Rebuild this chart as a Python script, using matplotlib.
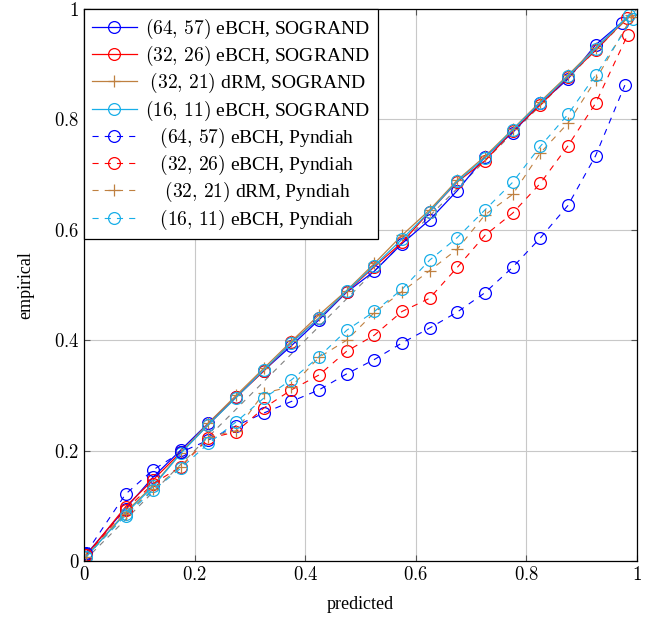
import matplotlib
matplotlib.use("Agg")
import matplotlib.pyplot as plt
from matplotlib.ticker import FuncFormatter, MultipleLocator

plt.rcParams['font.family'] = 'serif'
plt.rcParams['font.serif'] = ['Liberation Serif', 'DejaVu Serif']
plt.rcParams['mathtext.fontset'] = 'cm'

# bin centres (mean predicted probability per bin)
pred_mid = [0.075, 0.125, 0.175, 0.225, 0.275, 0.325, 0.375, 0.425, 0.475,
            0.525, 0.575, 0.625, 0.675, 0.725, 0.775, 0.825, 0.875, 0.925]

# SOGRAND
sog_64_57_x = [0.004] + pred_mid + [0.972]
sog_64_57 = [0.012, 0.095, 0.152, 0.201, 0.250, 0.297, 0.345, 0.390, 0.437, 0.487,
             0.525, 0.575, 0.618, 0.671, 0.732, 0.776, 0.829, 0.873, 0.935, 0.975]
sog_32_26_x = [0.004] + pred_mid + [0.981]
sog_32_26 = [0.010, 0.098, 0.147, 0.197, 0.247, 0.297, 0.344, 0.396, 0.440, 0.488,
             0.533, 0.577, 0.633, 0.687, 0.725, 0.779, 0.826, 0.877, 0.925, 0.983]
sog_32_21_x = [0.004] + pred_mid + [0.990]
sog_32_21 = [0.008, 0.088, 0.137, 0.196, 0.250, 0.300, 0.349, 0.398, 0.446, 0.490,
             0.539, 0.590, 0.636, 0.690, 0.733, 0.782, 0.832, 0.880, 0.930, 0.990]
sog_16_11_x = [0.004] + pred_mid + [0.986]
sog_16_11 = [0.008, 0.086, 0.135, 0.195, 0.247, 0.296, 0.346, 0.395, 0.440, 0.489,
             0.535, 0.583, 0.633, 0.688, 0.730, 0.781, 0.830, 0.878, 0.928, 0.990]

# Pyndiah
pyn_64_57_x = [0.004] + pred_mid + [0.978]
pyn_64_57 = [0.015, 0.121, 0.165, 0.197, 0.219, 0.245, 0.268, 0.289, 0.310, 0.339,
             0.365, 0.395, 0.422, 0.451, 0.486, 0.532, 0.585, 0.644, 0.734, 0.862]
pyn_32_26_x = [0.004] + pred_mid + [0.983]
pyn_32_26 = [0.010, 0.093, 0.140, 0.171, 0.222, 0.234, 0.277, 0.310, 0.337, 0.380,
             0.409, 0.452, 0.476, 0.532, 0.590, 0.630, 0.684, 0.752, 0.829, 0.953]
pyn_32_21_x = [0.004] + pred_mid + [0.990]
pyn_32_21 = [0.008, 0.085, 0.130, 0.171, 0.225, 0.236, 0.304, 0.316, 0.369, 0.400,
             0.450, 0.488, 0.526, 0.565, 0.627, 0.664, 0.739, 0.793, 0.871, 0.985]
pyn_16_11_x = [0.004] + pred_mid + [0.992]
pyn_16_11 = [0.008, 0.082, 0.128, 0.168, 0.213, 0.252, 0.295, 0.328, 0.370, 0.418,
             0.452, 0.492, 0.545, 0.586, 0.636, 0.686, 0.751, 0.809, 0.880, 0.982]

BLUE = '#0000FF'
RED = '#FF0000'
BROWN = '#BF8040'
CYAN = '#17AEE8'

fig = plt.figure(figsize=(6.57, 6.2), dpi=100)
ax = fig.add_axes([0.1279, 0.0952, 0.8417, 0.8903])

# perfect calibration reference
ax.plot([0, 1], [0, 1], color='gray', lw=0.8, ls=(0, (5, 5)), zorder=1)

solid = dict(lw=0.9, ms=8.5, mfc='none', mew=0.9)
dashed = dict(lw=0.8, ms=8.5, mfc='none', mew=0.9, ls=(0, (5.5, 5.5)))
pad = '   '

ax.plot(sog_64_57_x, sog_64_57, color=BLUE, marker='o', label=r'$(64,\,57)$ eBCH, SOGRAND', **solid)
ax.plot(sog_32_26_x, sog_32_26, color=RED, marker='o', label=r'$(32,\,26)$ eBCH, SOGRAND', **solid)
ax.plot(sog_32_21_x, sog_32_21, color=BROWN, marker='+', label=r' $(32,\,21)$ dRM, SOGRAND', **solid)
ax.plot(sog_16_11_x, sog_16_11, color=CYAN, marker='o', label=r'$(16,\,11)$ eBCH, SOGRAND', **solid)
ax.plot(pyn_64_57_x, pyn_64_57, color=BLUE, marker='o', label=pad + r'$(64,\,57)$ eBCH, Pyndiah', **dashed)
ax.plot(pyn_32_26_x, pyn_32_26, color=RED, marker='o', label=pad + r'$(32,\,26)$ eBCH, Pyndiah', **dashed)
ax.plot(pyn_32_21_x, pyn_32_21, color=BROWN, marker='+', label=pad + r' $(32,\,21)$ dRM, Pyndiah', **dashed)
ax.plot(pyn_16_11_x, pyn_16_11, color=CYAN, marker='o', label=pad + r'$(16,\,11)$ eBCH, Pyndiah', **dashed)

ax.set_xlim(0, 1)
ax.set_ylim(0, 1)
ax.xaxis.set_major_locator(MultipleLocator(0.2))
ax.yaxis.set_major_locator(MultipleLocator(0.2))
fmt = FuncFormatter(lambda v, p: '$%g$' % round(v, 2))
ax.xaxis.set_major_formatter(fmt)
ax.yaxis.set_major_formatter(fmt)
ax.tick_params(direction='in', top=True, right=True, length=4, width=0.8,
               color='#555555', labelsize=13.5)
ax.grid(True, color='#c8c8c8', lw=0.8)
ax.set_axisbelow(True)
for s in ax.spines.values():
    s.set_linewidth(0.9)

ax.set_xlabel('predicted', fontsize=13, labelpad=9)
ax.set_ylabel('empirical', fontsize=13, labelpad=14)

leg = ax.legend(loc='upper left', borderaxespad=0, fontsize=14, fancybox=False,
                edgecolor='black', framealpha=1, handlelength=2.3, labelspacing=0.16,
                borderpad=0.4, handletextpad=0.45)
leg.get_frame().set_linewidth(0.9)

fig.savefig('out.png', dpi=100)
